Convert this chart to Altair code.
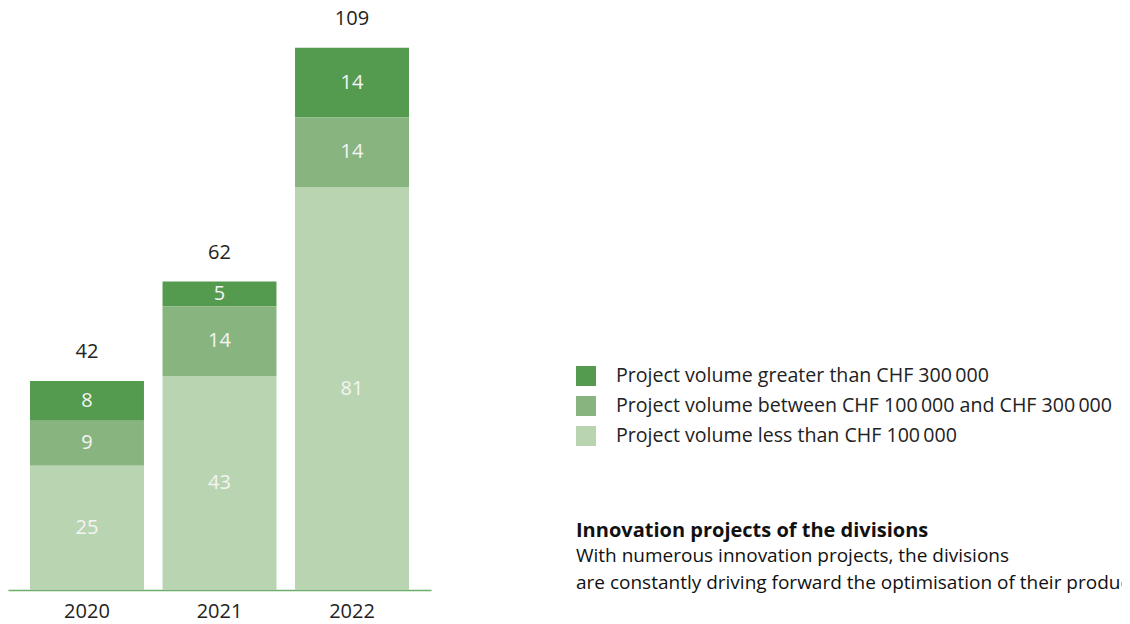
import altair as alt
import pandas as pd

years = ["2020", "2021", "2022"]
cat_high = "Project volume greater than CHF 300\u2009000"
cat_mid = "Project volume between CHF 100\u2009000 and CHF 300\u2009000"
cat_low = "Project volume less than CHF 100\u2009000"
categories = [cat_high, cat_mid, cat_low]
stack_rank = [2, 1, 0]
colors = ["#549a4f", "#88b47f", "#b9d4b1"]

values_high = [8, 5, 14]
values_mid = [9, 14, 14]
values_low = [25, 43, 81]

title_text = "Innovation projects of the divisions"
sub_line1 = "With numerous innovation projects, the divisions"
sub_line2 = "are constantly driving forward the optimisation of their products"

rows = []
for cat, rank, vals in zip(categories, stack_rank, [values_high, values_mid, values_low]):
    for yr, v in zip(years, vals):
        rows.append({"year": yr, "category": cat, "rank": rank, "value": v})
df = pd.DataFrame(rows)

FONT = "Open Sans"
FS = 20

x_scale = alt.Scale(range=[0, 423], paddingInner=0.14, paddingOuter=0.166)
x_enc = alt.X("year:N", title=None, scale=x_scale,
              axis=alt.Axis(labelAngle=0, ticks=False, domainColor="#6cae67", domainWidth=1.5,
                            labelFontSize=FS, labelFont=FONT, labelColor="#222222",
                            labelPadding=11, grid=False))
y_scale = alt.Scale(domain=[0, 117], nice=False)

base = alt.Chart(df)

bars = base.mark_bar().encode(
    x=x_enc,
    y=alt.Y("value:Q", stack="zero", scale=y_scale, axis=None),
    color=alt.Color("category:N",
                    scale=alt.Scale(domain=categories, range=colors),
                    legend=alt.Legend(title=None, orient="none", legendX=568, legendY=358,
                                      symbolType="square", symbolSize=400, symbolStrokeWidth=0,
                                      symbolOpacity=1, labelFontSize=19.6, labelFont=FONT,
                                      labelColor="#222222", labelOffset=20, rowPadding=10,
                                      labelLimit=700)),
    order=alt.Order("rank:Q", sort="ascending"),
)

seg_labels = base.transform_stack(
    stack="value", groupby=["year"], sort=[alt.SortField("rank", order="ascending")],
    as_=["v0", "v1"]
).transform_calculate(mid="(datum.v0 + datum.v1) / 2").mark_text(
    font=FONT, fontSize=FS, color="#f4f4f4", baseline="middle"
).encode(
    x=alt.X("year:N", scale=x_scale),
    y=alt.Y("mid:Q", scale=y_scale),
    text="value:Q",
)

totals = base.transform_aggregate(total="sum(value)", groupby=["year"]).mark_text(
    font=FONT, fontSize=FS, color="#222222", baseline="middle", dy=-29
).encode(
    x=alt.X("year:N", scale=x_scale),
    y=alt.Y("total:Q", scale=y_scale),
    text="total:Q",
)

def note(txt, y, size, bold=False):
    return alt.Chart(pd.DataFrame({"t": [txt]})).mark_text(
        font=FONT, fontSize=size, color="#111111", align="left", baseline="middle",
        fontWeight="bold" if bold else "normal"
    ).encode(x=alt.value(568), y=alt.value(y), text="t:N")

chart = alt.layer(
    bars, seg_labels, totals,
    note(title_text, 523, FS, True), note(sub_line1, 548, 19), note(sub_line2, 575, 19),
).properties(
    width=1114, height=582,
    autosize=alt.AutoSizeParams(type="none"),
    padding={"left": 0, "right": 0, "top": 0, "bottom": 34},
).configure_view(stroke=None)

chart.save("out.html", embed_options={"renderer": "svg", "actions": False})
